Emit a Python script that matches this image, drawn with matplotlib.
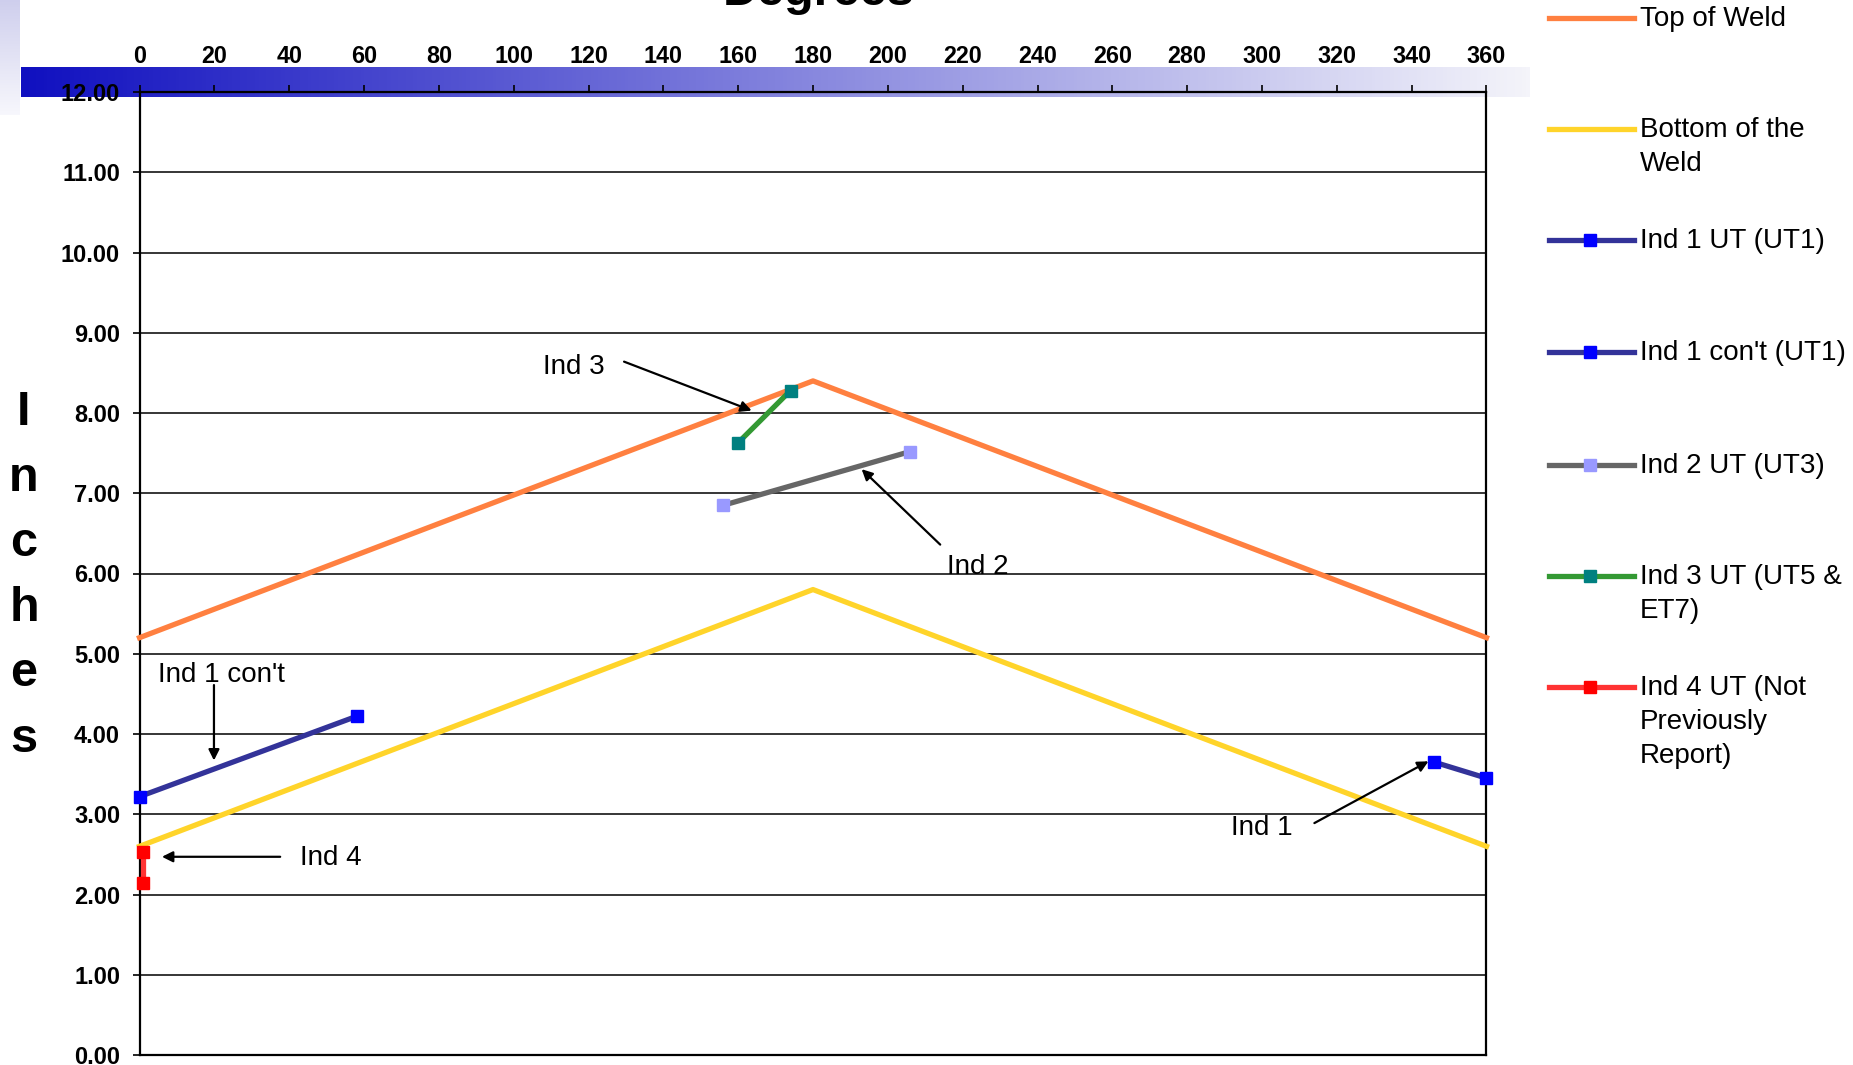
import numpy as np
import matplotlib
matplotlib.use("Agg")
import matplotlib.pyplot as plt
from matplotlib.lines import Line2D
from matplotlib.ticker import FormatStrFormatter, MultipleLocator

plt.rcParams['font.family'] = ['Liberation Sans', 'DejaVu Sans']

W, H = 1853, 1065

# ---- data -------------------------------------------------------------
weld_deg = [0, 180, 360]
top_of_weld = [5.2, 8.4, 5.2]
bottom_of_weld = [2.6, 5.8, 2.6]

ind1_deg = [346, 360]
ind1_in = [3.65, 3.45]
ind1c_deg = [0, 58]
ind1c_in = [3.22, 4.22]
ind2_deg = [156, 206]
ind2_in = [6.85, 7.52]
ind3_deg = [160, 174]
ind3_in = [7.63, 8.28]
ind4_deg = [1, 1]
ind4_in = [2.53, 2.14]

series_labels = ["Top of Weld", "Bottom of the\nWeld", "Ind 1 UT (UT1)",
                 "Ind 1 con't (UT1)", "Ind 2 UT (UT3)", "Ind 3 UT (UT5 &\nET7)",
                 "Ind 4 UT (Not\nPreviously\nReport)"]

# annotation label, label position, arrow start, arrow tip (degrees, inches)
notes = [
    ("Ind 3", (116, 8.57), (129.5, 8.64), (163.6, 8.03)),
    ("Ind 2", (224, 6.08), (214, 6.36), (193, 7.30)),
    ("Ind 1 con't", (22, 4.74), (19.9, 4.61), (19.9, 3.67)),
    ("Ind 4", (51, 2.46), (37.6, 2.47), (6.0, 2.47)),
    ("Ind 1", (300, 2.83), (314, 2.89), (344.5, 3.66)),
]

def fx(px):
    return px / W

def fy(py):
    return 1 - py / H

fig = plt.figure(figsize=(W / 100, H / 100), dpi=100, facecolor="white")

# slide decoration strip at the top-left corner
strip = fig.add_axes([0, fy(115), fx(20), 115 / H], zorder=0)
c_top = np.array([0.81, 0.81, 0.93])
c_bot = np.array([0.97, 0.97, 0.99])
t = np.linspace(0, 1, 100)[:, None, None]
strip.imshow(c_top * (1 - t) + c_bot * t, aspect="auto")
strip.axis("off")

# gradient band behind the degree scale
band = fig.add_axes([fx(21), fy(97), fx(1530 - 21), 30 / H], zorder=0)
c_l = np.array([16, 16, 192]) / 255
c_r = np.array([244, 244, 250]) / 255
s = np.linspace(0, 1, 400)[None, :, None]
band.imshow(c_l * (1 - s) + c_r * s, aspect="auto")
band.axis("off")

ax = fig.add_axes([fx(139.5), fy(1055), fx(1486.5 - 139.5), (1055 - 92) / H], zorder=2)
ax.set_facecolor("none")

lw = 3.8
ax.plot(weld_deg, top_of_weld, color="#ff8040", lw=lw, clip_on=False, zorder=3)
ax.plot(weld_deg, bottom_of_weld, color="#ffd42a", lw=lw, clip_on=False, zorder=3)

ind_series = [
    (ind1_deg, ind1_in, "#333399", "#0000ff"),
    (ind1c_deg, ind1c_in, "#333399", "#0000ff"),
    (ind2_deg, ind2_in, "#666666", "#9999ff"),
    (ind3_deg, ind3_in, "#339933", "#008080"),
    (ind4_deg, ind4_in, "#ff3333", "#ff0000"),
]
for xd, yd, lc, mc in ind_series:
    ax.plot(xd, yd, color=lc, lw=lw, marker="s", ms=8, mfc=mc, mec=mc,
            clip_on=False, zorder=4)

for label, txy, start, tip in notes:
    ax.text(txy[0], txy[1], label, fontsize=20, ha="center", va="center")
    ax.annotate("", xy=tip, xytext=start,
                arrowprops=dict(arrowstyle="-|>", color="black", lw=1.6,
                                mutation_scale=16, shrinkA=0, shrinkB=0))

ax.set_xlim(0, 360)
ax.set_ylim(0, 12)
ax.xaxis.set_major_locator(MultipleLocator(20))
ax.yaxis.set_major_locator(MultipleLocator(1))
ax.yaxis.set_major_formatter(FormatStrFormatter("%.2f"))
ax.xaxis.tick_top()
ax.tick_params(axis="x", direction="out", length=5, width=1.2, pad=12,
               labelsize=16.8, colors="black")
ax.tick_params(axis="y", direction="out", length=5, width=1.2, pad=9,
               labelsize=17)
for lab in ax.get_xticklabels() + ax.get_yticklabels():
    lab.set_fontweight("bold")
ax.grid(axis="y", color="black", lw=1.1)
ax.grid(axis="x", visible=False)
for sp in ax.spines.values():
    sp.set_color("black")
    sp.set_linewidth(1.6)

# titles
fig.text(fx(819), fy(5), "Degrees", fontsize=35, fontweight="bold",
         ha="center", va="baseline")
fig.text(fx(24), fy(576), "I\nn\nc\nh\ne\ns", fontsize=35, fontweight="bold",
         ha="center", va="center", linespacing=1.58)

# legend
legend_styles = [
    ("#ff8040", None), ("#ffd42a", None), ("#333399", "#0000ff"),
    ("#333399", "#0000ff"), ("#666666", "#9999ff"), ("#339933", "#008080"),
    ("#ff3333", "#ff0000"),
]
legend_y = [18, 129, 240, 352, 465, 576, 687]
for (lc, mc), yc, lab in zip(legend_styles, legend_y, series_labels):
    fig.add_artist(Line2D([fx(1549), fx(1634)], [fy(yc), fy(yc)], color=lc, lw=lw,
                          transform=fig.transFigure))
    if mc is not None:
        fig.add_artist(Line2D([fx(1590)], [fy(yc)], marker="s", ms=8, mfc=mc,
                              mec=mc, transform=fig.transFigure))
    fig.text(fx(1640), fy(yc - 12), lab, fontsize=20, ha="left", va="top",
             linespacing=1.4)

fig.savefig("out.png", dpi=100, facecolor="white")
